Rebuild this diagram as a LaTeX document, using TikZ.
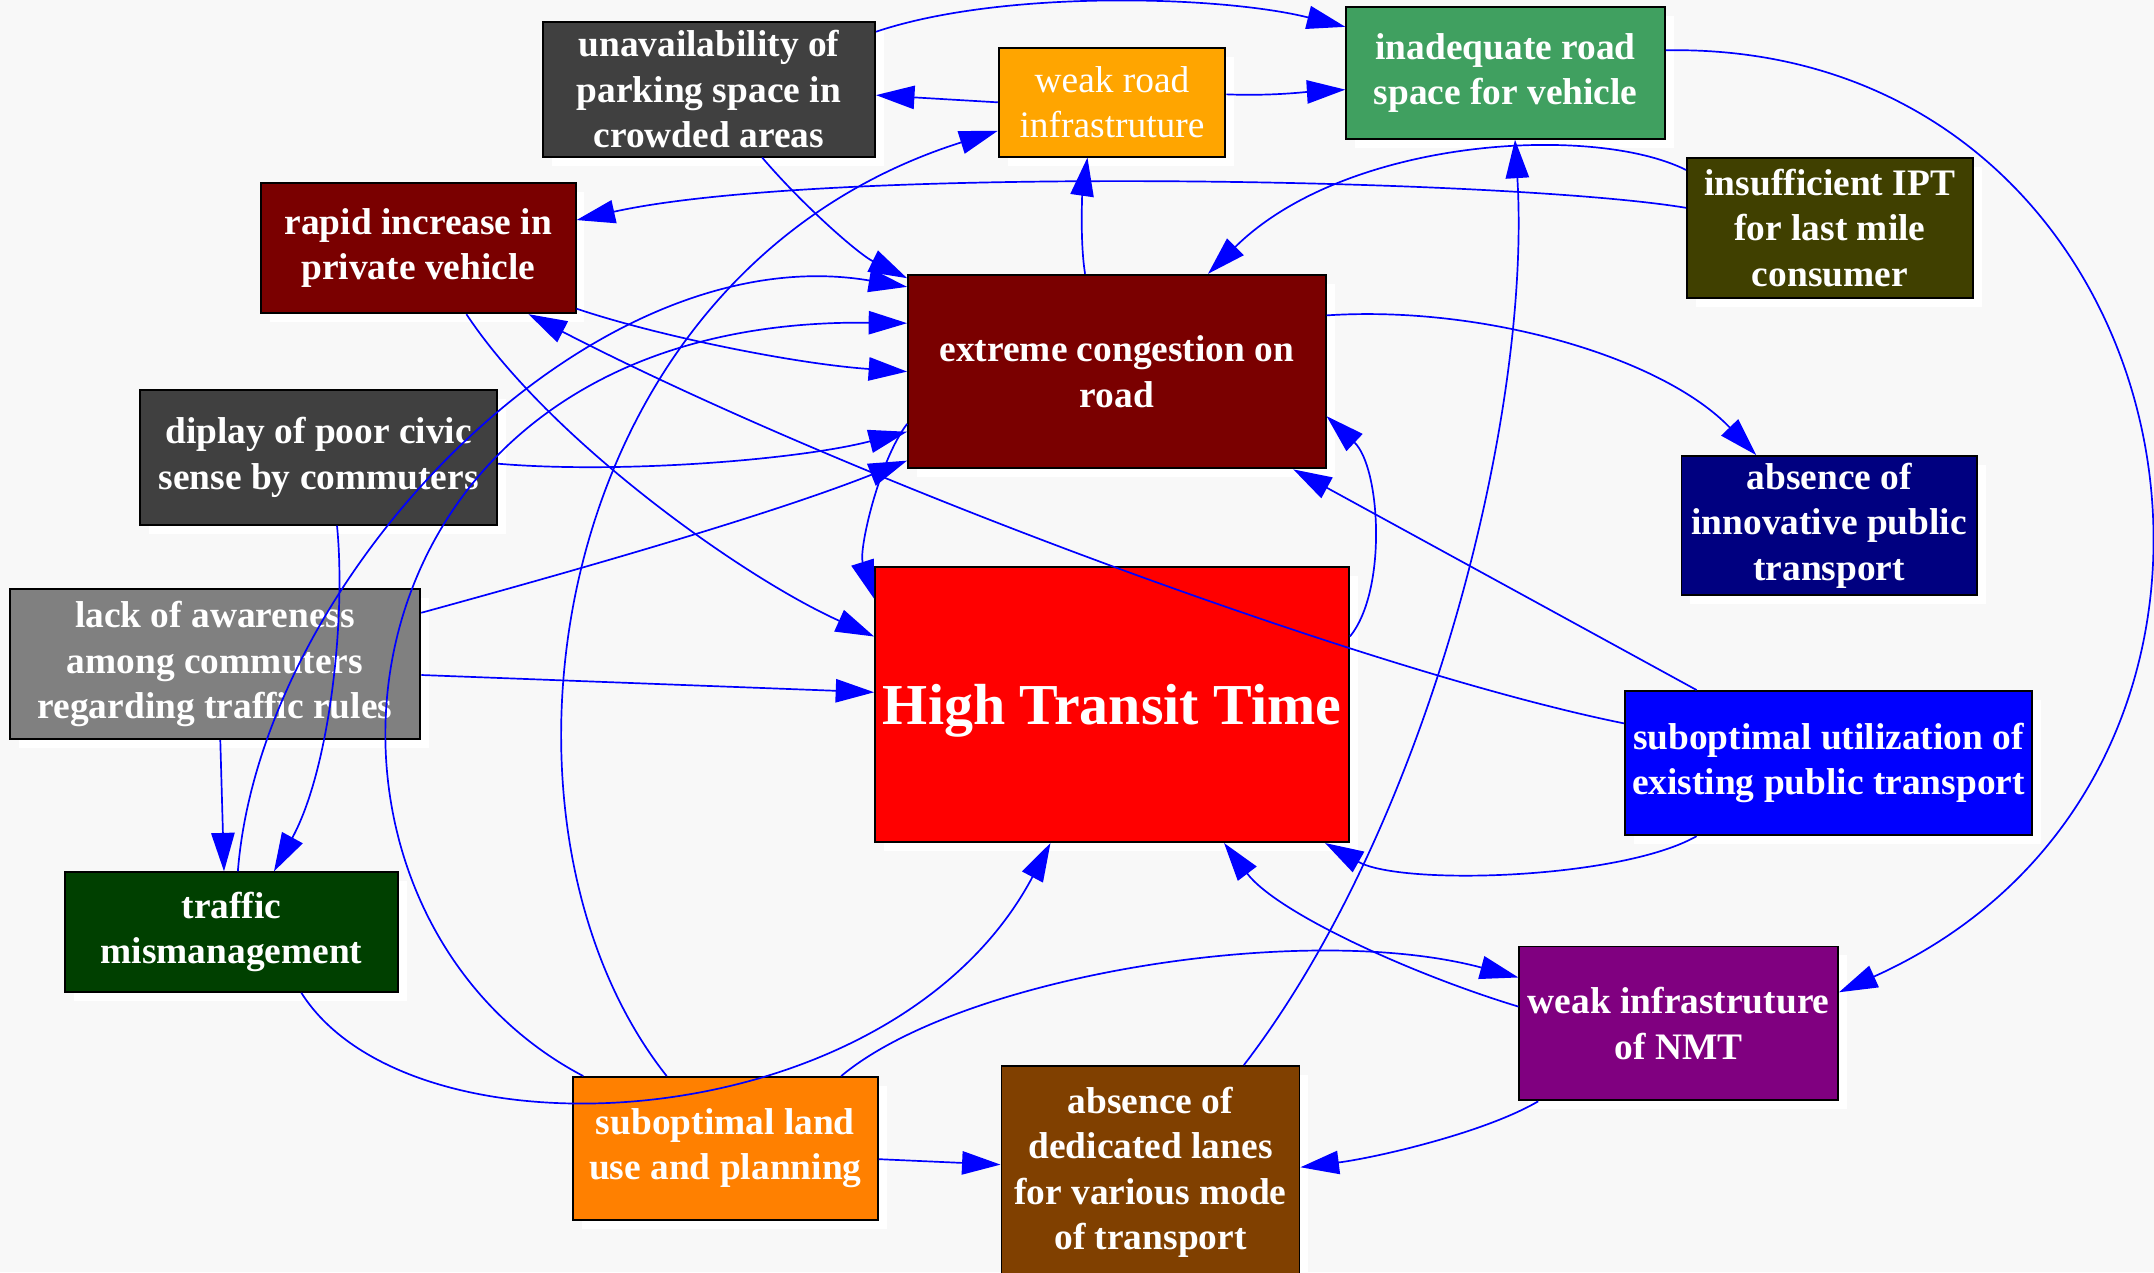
\documentclass[tikz,border=0pt]{standalone}
\usepackage{fontspec}
\setmainfont{Liberation Serif}
\usetikzlibrary{arrows.meta,shadows}
\definecolor{bg}{HTML}{F8F8F8}
\definecolor{slate}{HTML}{404040}
\definecolor{maroon}{RGB}{122,0,0}
\definecolor{sea}{RGB}{64,160,96}
\definecolor{olive}{HTML}{404000}
\definecolor{navy}{HTML}{000080}
\definecolor{forest}{HTML}{004000}
\definecolor{plum}{HTML}{800080}
\definecolor{amber}{HTML}{FFA500}
\definecolor{tangerine}{HTML}{FF8000}
\definecolor{rust}{RGB}{128,64,0}
\tikzset{
  box/.style={draw=black,line width=0.8pt,text=white,align=center,inner sep=0pt,
    font=\fontsize{15.5}{18.8}\selectfont\bfseries,
    drop shadow={shadow xshift=0.13cm,shadow yshift=-0.13cm,fill=white,opacity=1}},
  dims/.style 2 args={minimum width=#1cm,minimum height=#2cm},
  link/.style={blue,line width=0.7pt,-{Triangle[length=0.56cm,width=0.34cm]}}
}

\begin{document}
\begin{tikzpicture}[x=0.02cm,y=-0.02cm]
 \useasboundingbox (0,0) rectangle (1568,926);
 \fill[bg] (0,0) rectangle (1568,926);

 % causes and effects
 \node[box,fill=slate,dims={4.84}{1.96}] (unav) at (516,65) {unavailability of\\parking space in\\crowded areas};
 \node[box,fill=amber,dims={3.3}{1.58},font=\fontsize{15.5}{18.8}\selectfont\mdseries] (weakroad) at (809.5,74.5) {weak road\\infrastruture};
 \node[box,fill=sea,dims={4.64}{1.92}] (roadspace) at (1096,53) {inadequate road\\space for vehicle};
 \node[box,fill=maroon,dims={4.58}{1.9}] (rapid) at (304.5,180.5) {rapid increase in\\private vehicle};
 \node[box,fill=olive,dims={4.16}{2.04}] (ipt) at (1332,166) {insufficient IPT\\for last mile\\consumer};
 \node[box,fill=maroon,dims={6.08}{2.82}] (congestion) at (813,270.5) {extreme congestion on\\road};
 \node[box,fill=slate,dims={5.2}{1.96}] (civic) at (232,333) {diplay of poor civic\\sense by commuters};
 \node[box,fill=navy,dims={4.3}{2.02}] (innov) at (1331.5,382.5) {absence of\\innovative public\\transport};
 \node[box,fill=gray,dims={5.98}{2.18}] (awareness) at (156.5,483.5) {lack of awareness\\among commuters\\regarding traffic rules};
 \node[box,fill=red,dims={6.9}{4.0},text depth=0pt,font=\fontsize{24}{28}\selectfont\bfseries] (transit) at (809.5,513) {High Transit Time};
 \node[box,fill=blue,dims={5.92}{2.1}] (util) at (1331,555.5) {suboptimal utilization of\\existing public transport};
 \node[box,fill=forest,dims={4.86}{1.74}] (mismanage) at (168.5,678.5) {traffic\\mismanagement};
 \node[box,fill=plum,dims={4.64}{2.24}] (nmt) at (1222,745) {weak infrastruture\\of NMT};
 \node[box,fill=tangerine,dims={4.44}{2.08}] (landuse) at (528,836) {suboptimal land\\use and planning};
 \node[box,fill=rust,dims={4.34}{3.1}] (lanes) at (837.5,853.5) {absence of\\dedicated lanes\\for various mode\\of transport};

 % straight links
 \foreach \src/\dst in {weakroad.180/unav.-2, util.151/congestion.-29, landuse.-4/lanes.177,
   awareness.-3/transit.177, awareness.-86/mismanage.97}
   \draw[link] (\src) -- (\dst);

 % curved links
 \draw[link] (unav.19) .. controls (730,-8) and (890,-3) .. (roadspace.164);
 \draw[link] (weakroad.4) .. controls (925,70) and (950,67) .. (roadspace.186);
 \draw[link] (unav.-52) .. controls (585,150) and (625,185) .. (congestion.156);
 \draw[link] (congestion.108) .. controls (786,175) and (788,140) .. (weakroad.246);
 \draw[link] (ipt.172) .. controls (1100,130) and (600,120) .. (rapid.10);
 \draw[link] (ipt.158) .. controls (1160,90) and (980,100) .. (congestion.47);
 \draw[link] (roadspace.8) .. controls (1600,30) and (1700,560) .. (nmt.11);
 \draw[link] (congestion.15) .. controls (1080,222) and (1210,260) .. (innov.136);
 \draw[link] (transit.16) .. controls (1010,430) and (1005,340) .. (congestion.-12);
 \draw[link] (congestion.194) .. controls (640,335) and (625,400) .. (transit.156);
 \draw[link] (util.169) .. controls (1000,490) and (620,350) .. (rapid.-31);
 \draw[link] (util.209) .. controls (1180,640) and (1020,645) .. (transit.-33);
 \draw[link] (nmt.174) .. controls (1030,710) and (930,665) .. (transit.-51);
 \draw[link] (nmt.209) .. controls (1080,825) and (1000,843) .. (lanes.2);
 \draw[link] (landuse.32) .. controls (700,710) and (950,670) .. (nmt.164);
 \draw[link] (landuse.129) .. controls (340,600) and (395,200) .. (weakroad.194);
 \draw[link] (mismanage.-41) .. controls (300,850) and (650,830) .. (transit.246);
 \draw[link] (mismanage.84) .. controls (190,420) and (430,170) .. (congestion.158);
 \draw[link] (landuse.153) .. controls (190,660) and (230,230) .. (congestion.167);
 \draw[link] (awareness.14) .. controls (420,415) and (560,375) .. (congestion.203);
 \draw[link] (civic.-2) .. controls (450,345) and (580,335) .. (congestion.196);
 \draw[link] (civic.-75) .. controls (252,450) and (240,560) .. (mismanage.55);
 \draw[link] (rapid.-21) .. controls (480,245) and (580,265) .. (congestion.180);
 \draw[link] (rapid.-54) .. controls (400,320) and (540,420) .. (transit.164);
 \draw[link] (lanes.49) .. controls (1040,600) and (1115,300) .. (roadspace.-82);
\end{tikzpicture}
\end{document}
